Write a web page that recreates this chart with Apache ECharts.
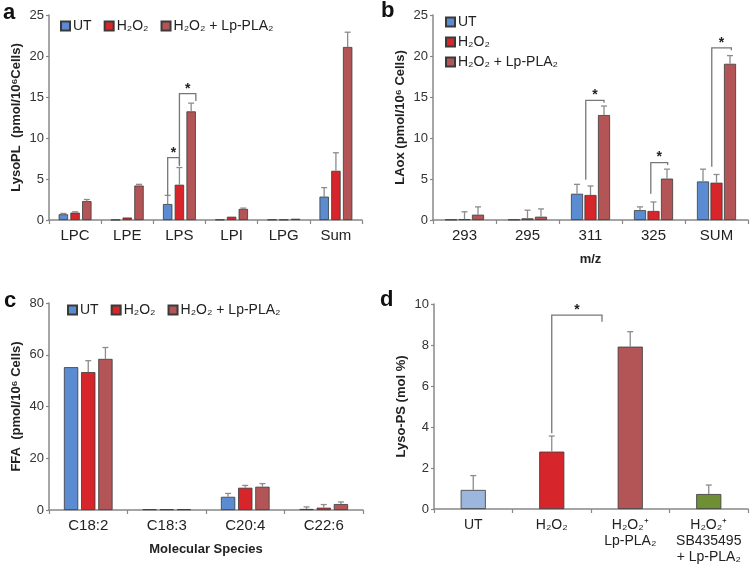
<!DOCTYPE html>
<html>
<head>
<meta charset="utf-8">
<script src="https://cdn.jsdelivr.net/npm/echarts@6/dist/echarts.min.js"></script>
<style>
    html, body { margin: 0; padding: 0; background: #fff; }
    #main { width: 750px; height: 566px; }
</style>
</head>
<body>
<div id="main"></div>
<script>
/**
 * 数据：各面板的类别、均值、误差
 */
var catsA = ['LPC', 'LPE', 'LPS', 'LPI', 'LPG', 'Sum'];
var aUT = [0.7, 0.03, 1.95, 0.05, 0.05, 2.85];
var aUTErr = [0.1, 0, 1.05, 0, 0, 1.1];
var aH2O2 = [0.9, 0.3, 4.3, 0.4, 0.05, 6.0];
var aH2O2Err = [0.1, 0, 2.1, 0, 0, 2.2];
var aLp = [2.3, 4.2, 13.25, 1.35, 0.15, 21.1];
var aLpErr = [0.2, 0.15, 1.0, 0.1, 0, 1.8];

var catsB = ['293', '295', '311', '325', 'SUM'];
var bUT = [0.05, 0.05, 3.2, 1.2, 4.7];
var bUTErr = [0, 0, 1.15, 0.4, 1.5];
var bH2O2 = [0.1, 0.2, 3.05, 1.1, 4.55];
var bH2O2Err = [0.9, 1.0, 1.1, 1.1, 1.0];
var bLp = [0.65, 0.4, 12.8, 5.05, 19.05];
var bLpErr = [0.95, 0.95, 1.1, 1.15, 1.0];

var catsC = ['C18:2', 'C18:3', 'C20:4', 'C22:6'];
var cUT = [55.2, 0.3, 5.1, 0.4];
var cUTErr = [0, 0, 1.3, 0.8];
var cH2O2 = [53.3, 0.3, 8.6, 0.9];
var cH2O2Err = [4.4, 0, 0.9, 1.2];
var cLp = [58.4, 0.3, 9.0, 2.3];
var cLpErr = [4.4, 0, 1.2, 0.8];

var catsD = ['UT', 'H₂O₂', 'H₂O₂⁺\nLp-PLA₂', 'H₂O₂⁺\nSB435495\n+ Lp-PLA₂'];
var dVals = [0.93, 2.8, 7.92, 0.73];
var dErr = [0.7, 0.76, 0.73, 0.44];

// 显著性括号: [类别, 左柱序号, 右柱序号, 左腿底, 顶, 右腿底]
var bracketsA = [[2, 0, 1, 3.0, 7.6, 6.8], [2, 1, 2.4, 6.6, 15.4, 14.5]];
var bracketsB = [[2, 0.65, 2, 4.9, 14.6, 14.3], [3, 0.8, 2.05, 3.2, 7.0, 6.7], [4, 0.65, 2.1, 6.5, 21.0, 20.7]];
var bracketsD = [[1, 0, 2, 3.7, 9.46, 9.14]];

var names = ['UT', 'H₂O₂', 'H₂O₂ + Lp-PLA₂'];
var colors = ['#5b8bd0', '#d6262b', '#b35556'];
var dColors = ['#9db6de', '#d6262b', '#b35556', '#6f8f34'];

var FONT = '"Liberation Sans", Arial, sans-serif';

// 各面板柱子布局参数
var layouts = [
    { n: 3, cat: 0.37, gap: 0.25 },
    { n: 3, cat: 0.38, gap: 0.12 },
    { n: 3, cat: 0.38, gap: 0.2 },
    { n: 1, cat: 0.68, gap: 0 }
];

// 计算第i根柱子中心相对于类别中心的偏移
function barOffset(bandWidth, cfg, i) {
    var w = bandWidth * (1 - cfg.cat) / (cfg.n + (cfg.n - 1) * cfg.gap);
    var total = cfg.n * w + (cfg.n - 1) * cfg.gap * w;
    return -total / 2 + w / 2 + i * w * (1 + cfg.gap);
}

function barSeries(ax, name, vals, color) {
    return {
        name: name,
        type: 'bar',
        xAxisIndex: ax,
        yAxisIndex: ax,
        data: vals,
        barGap: (layouts[ax].gap * 100) + '%',
        barCategoryGap: (layouts[ax].cat * 100) + '%',
        itemStyle: { color: color, borderColor: '#3a3a3a', borderWidth: 0.8 },
        silent: true
    };
}

function errSeries(ax, idx, vals, errs) {
    var data = [];
    for (var i = 0; i < vals.length; i++) {
        data.push([i, vals[i], vals[i] + errs[i], errs[i]]);
    }
    return {
        type: 'custom',
        xAxisIndex: ax,
        yAxisIndex: ax,
        z: 5,
        silent: true,
        data: data,
        encode: { x: 0, y: 2 },
        renderItem: function (params, api) {
            if (api.value(3) <= 0) return;
            var c = api.value(0);
            var lo = api.coord([c, api.value(1)]);
            var hi = api.coord([c, api.value(2)]);
            var x = lo[0] + barOffset(api.size([1, 0])[0], layouts[ax], idx);
            var st = { stroke: '#8c8c8c', lineWidth: 1.3 };
            return {
                type: 'group',
                children: [
                    { type: 'line', shape: { x1: x, y1: lo[1], x2: x, y2: hi[1] }, style: st },
                    { type: 'line', shape: { x1: x - 3, y1: hi[1], x2: x + 3, y2: hi[1] }, style: st }
                ]
            };
        }
    };
}

function bracketSeries(ax, rows) {
    return {
        type: 'custom',
        xAxisIndex: ax,
        yAxisIndex: ax,
        z: 6,
        silent: true,
        data: rows,
        encode: { x: 0, y: 4 },
        renderItem: function (params, api) {
            var c = api.value(0);
            var bw = api.size([1, 0])[0];
            var base = api.coord([c, 0])[0];
            var xL = base + barOffset(bw, layouts[ax], api.value(1));
            var xR = base + barOffset(bw, layouts[ax], api.value(2));
            var yL = api.coord([c, api.value(3)])[1];
            var yT = api.coord([c, api.value(4)])[1];
            var yR = api.coord([c, api.value(5)])[1];
            return {
                type: 'group',
                children: [
                    {
                        type: 'polyline',
                        shape: { points: [[xL, yL], [xL, yT], [xR, yT], [xR, yR]] },
                        style: { stroke: '#777', lineWidth: 1.3, fill: null }
                    },
                    {
                        type: 'text',
                        style: {
                            text: '*', x: (xL + xR) / 2, y: yT - 5,
                            align: 'center', verticalAlign: 'middle',
                            font: 'bold 14px ' + FONT, fill: '#222'
                        }
                    }
                ]
            };
        }
    };
}

function xAxis(ax, cats, name, labelSize) {
    return {
        type: 'category',
        gridIndex: ax,
        data: cats,
        name: name,
        nameLocation: 'middle',
        nameGap: 33,
        nameTextStyle: { fontFamily: FONT, fontSize: 13, fontWeight: 'bold', color: '#222' },
        axisLine: { lineStyle: { color: '#888', width: 1.5 } },
        axisTick: { show: true, length: 4, lineStyle: { color: '#888', width: 1.2 } },
        axisLabel: {
            interval: 0, margin: 8, fontFamily: FONT, fontSize: labelSize,
            color: '#222', lineHeight: 16
        },
        splitLine: { show: false }
    };
}

function yAxis(ax, max, interval, name) {
    return {
        type: 'value',
        gridIndex: ax,
        min: 0,
        max: max,
        interval: interval,
        name: name,
        nameLocation: 'middle',
        nameGap: 26,
        nameRotate: 90,
        nameTextStyle: { fontFamily: FONT, fontSize: 13, fontWeight: 'bold', color: '#222' },
        axisLine: { show: true, lineStyle: { color: '#888', width: 1.5 } },
        axisTick: { show: true, length: 3, lineStyle: { color: '#888', width: 1.2 } },
        axisLabel: { margin: 5, fontFamily: FONT, fontSize: 13, color: '#333' },
        splitLine: { show: false }
    };
}

function legend(left, top, orient, gap) {
    return {
        left: left,
        top: top,
        orient: orient,
        icon: 'rect',
        itemWidth: 9,
        itemHeight: 9,
        itemGap: gap,
        selectedMode: false,
        data: names,
        textStyle: { fontFamily: FONT, fontSize: 14, color: '#222', padding: [0, 0, 0, -2] }
    };
}

var chart = echarts.init(document.getElementById('main'), null, { renderer: 'canvas' });

var series = [];
var groups = [[aUT, aH2O2, aLp, aUTErr, aH2O2Err, aLpErr],
              [bUT, bH2O2, bLp, bUTErr, bH2O2Err, bLpErr],
              [cUT, cH2O2, cLp, cUTErr, cH2O2Err, cLpErr]];
for (var g = 0; g < 3; g++) {
    for (var k = 0; k < 3; k++) {
        series.push(barSeries(g, names[k], groups[g][k], colors[k]));
    }
    for (var k = 0; k < 3; k++) {
        series.push(errSeries(g, k, groups[g][k], groups[g][k + 3]));
    }
}
series.push({
    name: 'Lyso-PS',
    type: 'bar',
    xAxisIndex: 3,
    yAxisIndex: 3,
    barCategoryGap: '68%',
    silent: true,
    data: dVals.map(function (v, i) {
        return { value: v, itemStyle: { color: dColors[i] } };
    }),
    itemStyle: { borderColor: '#3a3a3a', borderWidth: 0.8 }
});
series.push(errSeries(3, 0, dVals, dErr));
series.push(bracketSeries(0, bracketsA));
series.push(bracketSeries(1, bracketsB));
series.push(bracketSeries(3, bracketsD));

var option = {
    animation: false,
    backgroundColor: '#fff',
    grid: [
        { left: 49, top: 15, width: 313, height: 205 },
        { left: 433, top: 15, width: 315, height: 205 },
        { left: 49, top: 303, width: 314, height: 207 },
        { left: 434, top: 304, width: 314, height: 205 }
    ],
    xAxis: [
        xAxis(0, catsA, '', 15),
        xAxis(1, catsB, 'm/z', 15),
        xAxis(2, catsC, 'Molecular Species', 15),
        xAxis(3, catsD, '', 14)
    ],
    yAxis: [
        yAxis(0, 25, 5, 'LysoPL  (pmol/10⁶Cells)'),
        yAxis(1, 25, 5, 'LAox (pmol/10⁶ Cells)'),
        yAxis(2, 80, 20, 'FFA  (pmol/10⁶ Cells)'),
        yAxis(3, 10, 2, 'Lyso-PS (mol %)')
    ],
    legend: [
        legend(55, 14, 'horizontal', 12),
        legend(440, 10, 'vertical', 6),
        legend(62, 298, 'horizontal', 12)
    ],
    graphic: [
        { type: 'text', left: 3, top: 2, style: { text: 'a', font: 'bold 22px ' + FONT, fill: '#111' } },
        { type: 'text', left: 381, top: 0, style: { text: 'b', font: 'bold 22px ' + FONT, fill: '#111' } },
        { type: 'text', left: 4, top: 290, style: { text: 'c', font: 'bold 22px ' + FONT, fill: '#111' } },
        { type: 'text', left: 380, top: 289, style: { text: 'd', font: 'bold 22px ' + FONT, fill: '#111' } }
    ],
    series: series
};

chart.setOption(option);
</script>
</body>
</html>
